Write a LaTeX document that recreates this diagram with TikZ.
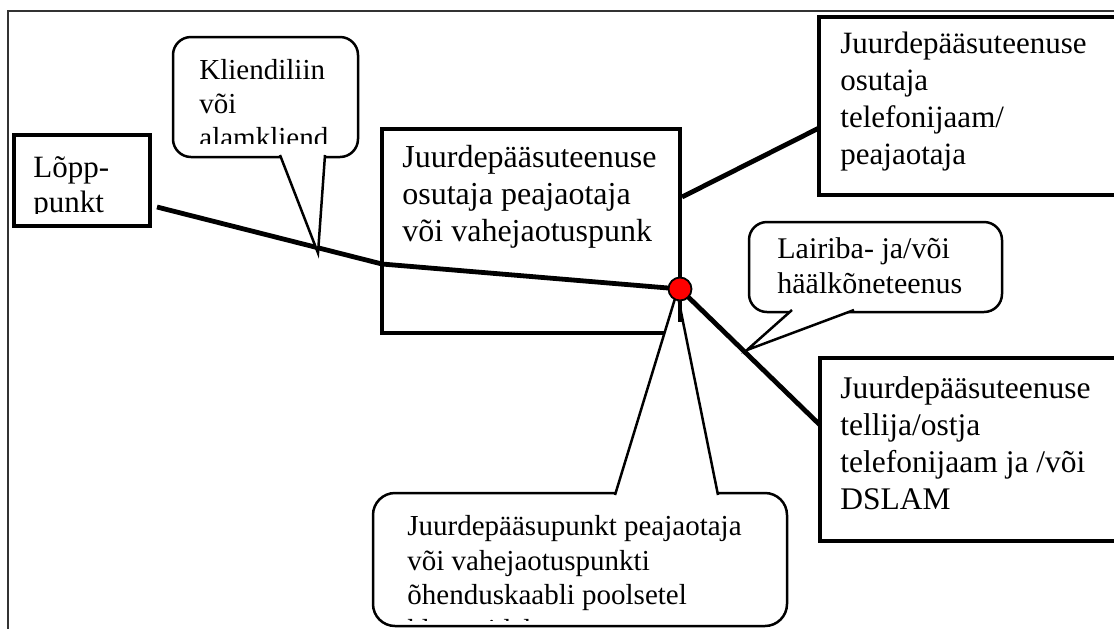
\documentclass[tikz,border=0pt]{standalone}
\usepackage{fontspec}
\setmainfont{Liberation Serif}
\usetikzlibrary{positioning}

\begin{document}
\begin{tikzpicture}[
        x=0.5pt, y=-0.5pt,
        box/.style={draw, line width=2.4pt, fill=white, rectangle, anchor=north west, outer sep=0pt, inner sep=0pt},
        bubble/.style={draw, line width=1.25pt, fill=white, rectangle, rounded corners=9pt, anchor=north west, outer sep=0pt, inner sep=0pt},
        wire/.style={line width=2.4pt},
        tailline/.style={line width=1.25pt, fill=white, line join=miter},
        txt/.style 2 args={align=left, inner sep=0pt, font=\fontsize{#1}{#2}\selectfont},
        hub/.style={circle, draw, line width=0.9pt, fill=red, minimum size=11.5pt, inner sep=0pt}
    ]
        \useasboundingbox (0,0) rectangle (1114,628);
        \clip (0,0) rectangle (1114,628);

        % Raam
        \draw[line width=0.9pt, black!80] (8,640) -- (8,11) -- (1130,11);

        % Kastid
        \node[box, minimum width=68pt, minimum height=45.5pt] (lopp) at (14,135) {};
        \node[box, minimum width=149pt, minimum height=102pt] (jaotus) at (382,129) {};
        \node[box, minimum width=160pt, minimum height=89pt] (jaam) at (819,17) {};
        \node[box, minimum width=160pt, minimum height=91.5pt] (dslam) at (820,358) {};

        % Tekstid kastides
        \begin{scope}
            \clip (lopp.north west) rectangle (150,213);
            \node[txt={15.5pt}{17.5pt}, below right=10.5pt and 9.5pt of lopp.north west] (lopptxt) {Lõpp-\\punkt};
        \end{scope}
        \node[txt={16pt}{18.5pt}, below right=8pt and 10pt of jaotus.north west] (jaotustxt) {Juurdepääsuteenuse\\osutaja peajaotaja\\või vahejaotuspunk};
        \node[txt={15.5pt}{18.5pt}, below right=7.5pt and 10.5pt of jaam.north west] (jaamtxt) {Juurdepääsuteenuse\\osutaja\\telefonijaam/\\peajaotaja};
        \node[txt={15.75pt}{18.5pt}, below right=9.3pt and 10pt of dslam.north west] (dslamtxt) {Juurdepääsuteenuse\\tellija/ostja\\telefonijaam ja /või\\DSLAM};

        % Liinid
        \coordinate (loppend) at (157,207);
        \coordinate (knee) at (382,264);
        \coordinate (hubpt) at (680,289);
        \coordinate (jaotusend) at (682,197);
        \coordinate (jaamend) at (819,128);
        \coordinate (dslamend) at (820,425);
        \draw[wire] (loppend) -- (knee) -- (hubpt);
        \draw[wire] (jaotusend) -- (jaamend);
        \draw[wire] (hubpt) -- (dslamend);

        % Mullid
        \node[bubble, minimum width=92.5pt, minimum height=60pt] (liin) at (173,37) {};
        \filldraw[tailline] (280,155) -- (318,253) -- (325,155);
        \begin{scope}
            \clip (liin.north west) rectangle (358,143);
            \node[txt={14.5pt}{17pt}, below right=11pt and 13pt of liin.north west] (liintxt) {Kliendiliin\\või\\alamkliend};
        \end{scope}

        \node[bubble, minimum width=126.5pt, minimum height=45pt] (lairiba) at (749,222) {};
        \filldraw[tailline] (792,310) -- (747,350) -- (854,310);
        \node[txt={15pt}{17.5pt}, below right=7.8pt and 14pt of lairiba.north west] (lairibatxt) {Lairiba- ja/või\\häälkõneteenus};

        \node[bubble, rounded corners=11pt, minimum width=207pt, minimum height=66.5pt] (punkt) at (373,493) {};
        \filldraw[tailline] (615,495) -- (677,292) -- (718,495);
        \begin{scope}
            \clip (punkt.north west) rectangle (787,620);
            \node[txt={14.5pt}{17.25pt}, below right=11pt and 17pt of punkt.north west] (punkttxt) {Juurdepääsupunkt peajaotaja\\või vahejaotuspunkti\\õhenduskaabli poolsetel\\klemmidel};
        \end{scope}

        % Punkt
        \draw[wire] (hubpt) -- (680,322);
        \node[hub] (dot) at (hubpt) {};
    \end{tikzpicture}
\end{document}
